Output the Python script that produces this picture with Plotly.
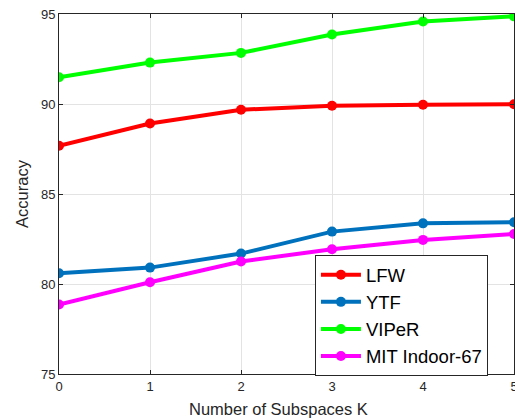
import plotly.graph_objects as go

k_values = [0, 1, 2, 3, 4, 5]
lfw = [87.68, 88.92, 89.68, 89.90, 89.96, 89.99]
ytf = [80.60, 80.91, 81.69, 82.91, 83.37, 83.43]
viper = [91.49, 92.30, 92.84, 93.86, 94.58, 94.87]
mit = [78.86, 80.10, 81.25, 81.93, 82.45, 82.78]

series = [
    ("LFW", lfw, "#FF0000"),
    ("YTF", ytf, "#0072BD"),
    ("VIPeR", viper, "#00FF00"),
    ("MIT Indoor-67", mit, "#FF00FF"),
]

font_family = "Liberation Sans, Arial, Helvetica, sans-serif"

fig = go.Figure()
for name, vals, color in series:
    fig.add_trace(go.Scatter(
        x=k_values, y=vals, name=name, mode="lines+markers",
        line=dict(color=color, width=4),
        marker=dict(color=color, size=10, symbol="circle"),
    ))

axis_common = dict(
    showline=True, linecolor="#262626", linewidth=1, mirror="ticks",
    ticks="inside", ticklen=4, tickcolor="#262626",
    showgrid=True, gridcolor="#e3e3e3", gridwidth=1,
    zeroline=False, automargin=False, ticklabeloverflow="allow",
    tickfont=dict(family=font_family, size=13, color="#262626"),
)

fig.update_layout(
    width=515, height=419,
    margin=dict(l=58.5, r=0.5, t=13.7, b=44.7, autoexpand=False),
    paper_bgcolor="white", plot_bgcolor="white",
    font=dict(family=font_family, color="#262626"),
    xaxis=dict(range=[0, 5], tickvals=k_values, **axis_common),
    yaxis=dict(range=[75, 95], tickvals=[75, 80, 85, 90, 95], **axis_common,
               title=dict(text="Accuracy", font=dict(size=16.5, color="#262626"), standoff=8)),
    legend=dict(
        x=0.5625, y=0.1617, xanchor="left", yanchor="middle",
        bgcolor="white", bordercolor="#262626", borderwidth=1,
        font=dict(family=font_family, size=18.5, color="black"),
        itemwidth=40, tracegroupgap=0, entrywidth=195, entrywidthmode="pixels",
    ),
    showlegend=True,
    annotations=[dict(
        text="Number of Subspaces K", xref="paper", yref="paper",
        x=0.4814, y=0, xanchor="center", yanchor="middle", yshift=-35,
        showarrow=False, font=dict(family=font_family, size=16.5, color="#262626"),
    )],
)

fig.write_html(
    "out.html",
    config={"displayModeBar": False},
    post_script="document.body.style.margin='0';document.body.style.overflow='hidden';",
)
